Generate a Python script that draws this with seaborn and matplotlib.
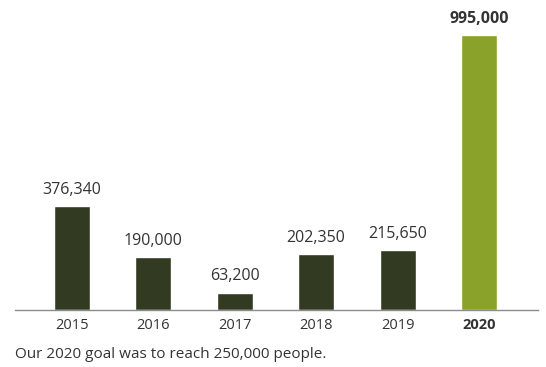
import matplotlib
matplotlib.use('Agg')
import matplotlib.pyplot as plt
import seaborn as sns
import pandas as pd

# Data
years = ['2015', '2016', '2017', '2018', '2019', '2020']
people = [376340, 190000, 63200, 202350, 215650, 995000]
highlight = [False, False, False, False, False, True]

df = pd.DataFrame({'year': years, 'people': people, 'highlight': highlight})

sns.set_style('white')
plt.rcParams['font.family'] = ['Open Sans', 'DejaVu Sans']

dark = '#323a22'
green = '#8aa229'
text_color = '#333333'

fig = plt.figure(figsize=(5.46, 3.67), dpi=100)
ax = fig.add_axes([15 / 546, 57 / 367, 523 / 546, 310 / 367])

sns.barplot(data=df, x='year', y='people', hue='highlight',
            palette={False: dark, True: green}, dodge=False,
            width=0.442, legend=False, ax=ax, saturation=1)

ax.set_xlim(-0.70, 5.725)
ax.set_ylim(0, 995000 * 310 / 275)

# value labels
for i, (v, h) in enumerate(zip(people, highlight)):
    ax.annotate(f'{v:,}', (i, v), xytext=(0, 6), textcoords='offset points',
                ha='center', va='bottom', fontsize=11.5, color=text_color,
                fontweight='bold' if h else 'normal')

ax.set_xlabel('')
ax.set_ylabel('')
ax.set_yticks([])
ax.tick_params(axis='x', length=0, pad=6, labelsize=10.5, labelcolor=text_color)
for lab, h in zip(ax.get_xticklabels(), highlight):
    if h:
        lab.set_fontweight('bold')

for s in ['top', 'right', 'left']:
    ax.spines[s].set_visible(False)
ax.spines['bottom'].set_color('#8c8c8c')
ax.spines['bottom'].set_linewidth(1)

fig.text(15 / 546, 1 - 355 / 367, 'Our 2020 goal was to reach 250,000 people.',
         ha='left', va='center', fontsize=11, color=text_color)

fig.savefig('out.png', dpi=100)
